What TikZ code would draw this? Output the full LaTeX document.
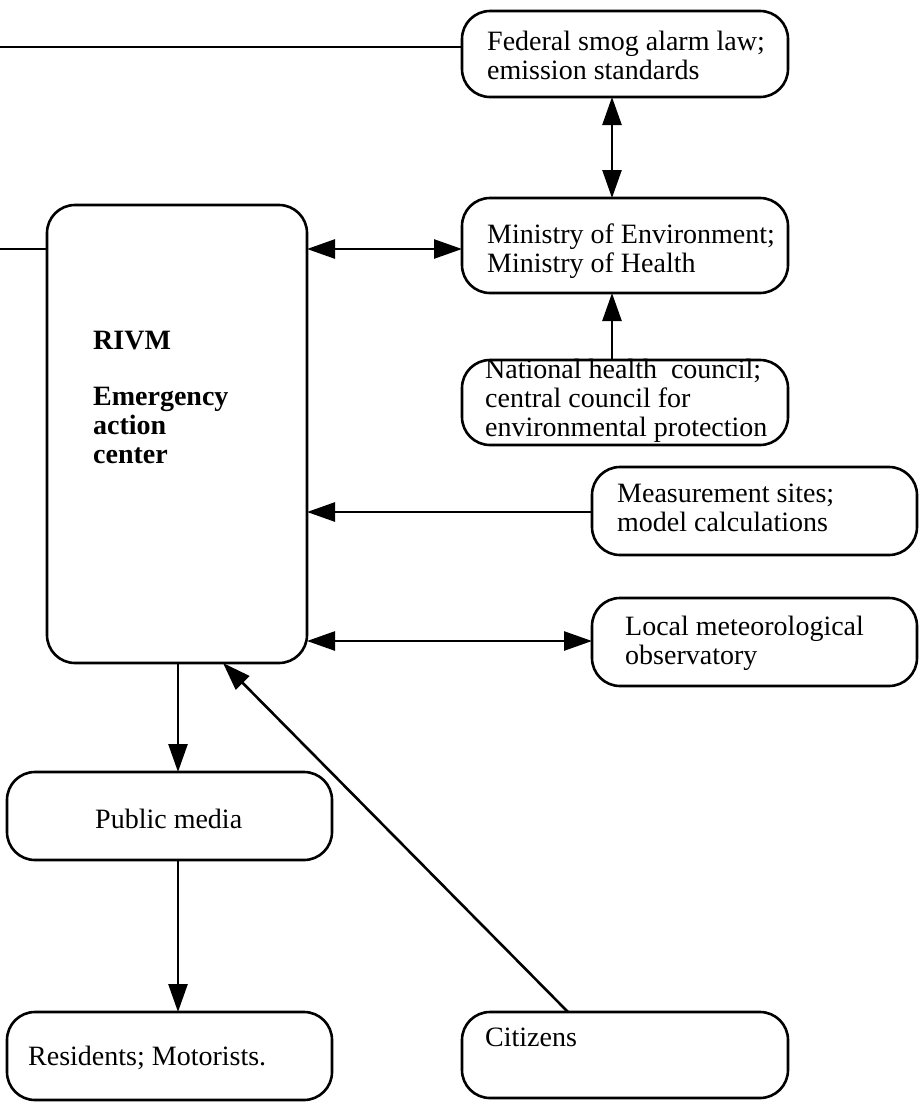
\documentclass[tikz,border=0pt]{standalone}
\usepackage{fontspec}
\setmainfont{Liberation Serif}
\usetikzlibrary{arrows.meta,calc}
\begin{document}
\begin{tikzpicture}[x=1pt,y=-1pt,
  box/.style={draw, line width=2.6pt, rounded corners=28pt, inner sep=0pt, outer sep=0pt, anchor=north west},
  txt/.style={anchor=north west, inner sep=0pt, align=left, font=\fontsize{28}{29}\selectfont},
  conn/.style={line width=2.6pt},
  tip/.style={conn, -{Triangle[length=28pt,width=19pt]}},
  dtip/.style={conn, {Triangle[length=28pt,width=19pt]}-{Triangle[length=28pt,width=19pt]}}]
\useasboundingbox[fill=white] (0,0) rectangle (921,1104);
% boxes
\node[box, minimum width=326pt, minimum height=86pt] (fed) at (462,11) {};
\node[box, minimum width=326pt, minimum height=95pt] (min) at (462,198) {};
\node[box, minimum width=326pt, minimum height=85pt] (nat) at (462,360) {};
\node[box, minimum width=260pt, minimum height=458pt] (rivm) at (47,205) {};
\node[box, minimum width=325pt, minimum height=88pt] (meas) at (592,467) {};
\node[box, minimum width=325pt, minimum height=88pt] (loc) at (592,598) {};
\node[box, minimum width=325pt, minimum height=88pt] (pub) at (7,772) {};
\node[box, minimum width=325pt, minimum height=88pt] (res) at (7,1012) {};
\node[box, minimum width=326pt, minimum height=86pt] (cit) at (462,1012) {};
% texts
\node[txt] (fedT) at (487,31) {Federal smog alarm law;\\emission standards};
\node[txt] (minT) at (487,224) {Ministry of Environment;\\Ministry of Health};
\node[txt] (natT) at (485,359) {National health\ \ council;\\central council for\\environmental protection};
\node[txt, font=\bfseries\fontsize{28}{29}\selectfont] (rivmT) at (93,331) {RIVM\\[27pt]Emergency\\action\\center};
\node[txt] (measT) at (617,484) {Measurement sites;\\model calculations};
\node[txt] (locT) at (625,616) {Local meteorological\\observatory};
\node[txt] (pubT) at (95,809) {Public media};
\node[txt] (resT) at (28,1046) {Residents; Motorists.};
\node[txt] (citT) at (485,1028) {Citizens};
% helper coordinates
\coordinate (L1) at (0,47);
\coordinate (L2) at (0,249);
\coordinate (Y2) at (0,512);
\coordinate (Y3) at (0,641);
\coordinate (X1) at (612,0);
\coordinate (X2) at (178,0);
\coordinate (X3) at (568,0);
\coordinate (X4) at (223,0);
% connectors
\draw[conn] (L1) -- (L1 -| fed.west);
\draw[conn] (L2) -- (L2 -| rivm.west);
\draw[dtip] (fed.south -| X1) -- (min.north -| X1);
\draw[tip] (nat.north -| X1) -- (min.south -| X1);
\draw[dtip] (rivm.east |- L2) -- (min.west |- L2);
\draw[tip] (meas.west |- Y2) -- (rivm.east |- Y2);
\draw[dtip] (rivm.east |- Y3) -- (loc.west |- Y3);
\draw[tip] (rivm.south -| X2) -- (pub.north -| X2);
\draw[tip] (pub.south -| X2) -- (res.north -| X2);
\draw[tip] (cit.north -| X3) -- (rivm.south -| X4);
\end{tikzpicture}
\end{document}
